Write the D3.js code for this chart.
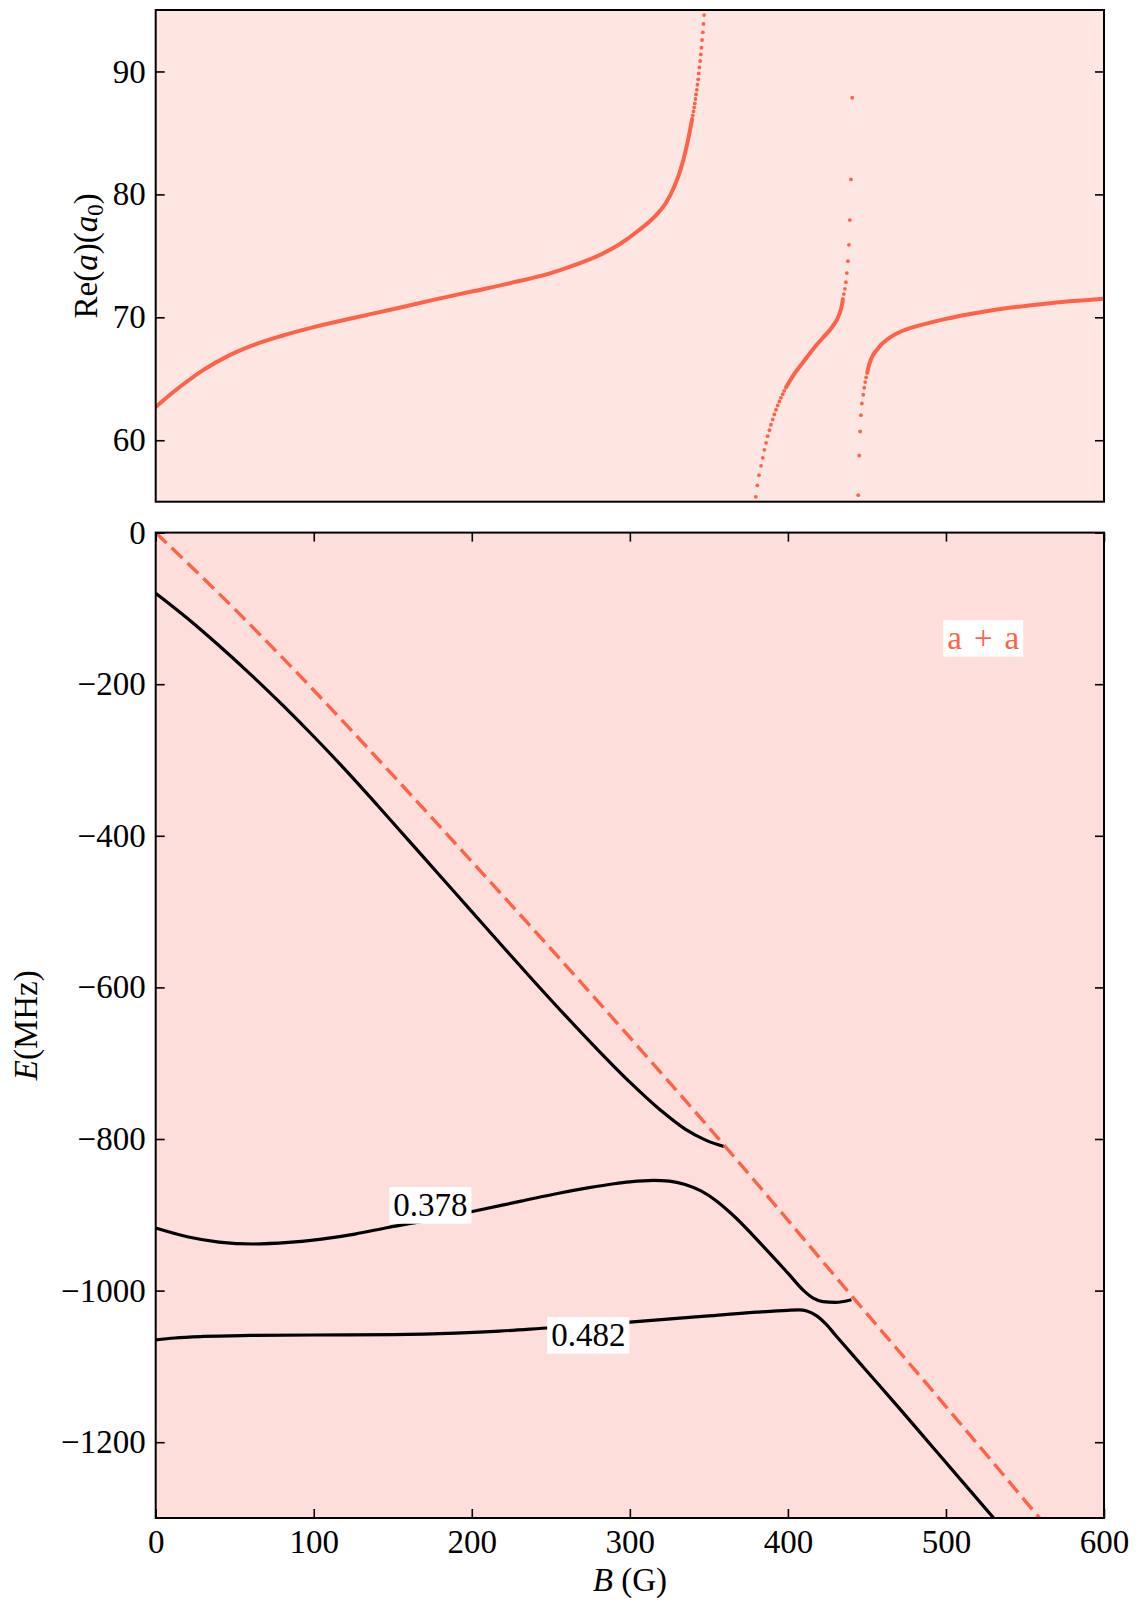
<!DOCTYPE html>
<html>
<head>
<meta charset="utf-8">
<script src="https://cdn.jsdelivr.net/npm/d3@7"></script>
<style>
  body { margin: 0; background: #fff; }
  svg { display: block; }
  text { font-family: "Liberation Serif", "DejaVu Serif", serif; }
</style>
</head>
<body>
<svg id="fig" width="1138" height="1602"></svg>
<script>
// ---------- tick values ----------
const fieldTicks = [0, 100, 200, 300, 400, 500, 600];
const lengthTicks = [60, 70, 80, 90];
const energyTicks = [0, -200, -400, -600, -800, -1000, -1200];

// ---------- scattering length Re(a) vs B (G, a0) ----------
// branch below the first resonance: dense part drawn as a band, sparse samples as dots
const reBranch1Line = [[0, 62.7], [10, 63.8], [20, 64.8], [30, 65.7], [45, 66.8], [60, 67.65], [80, 68.5],
  [100, 69.2], [125, 69.95], [150, 70.65], [175, 71.4], [200, 72.1], [225, 72.8], [250, 73.6], [265, 74.25],
  [281, 75.07], [293, 75.9], [305.9, 77.1], [316.5, 78.3], [322.8, 79.3], [328, 80.6], [332.3, 82.1],
  [335.4, 83.6], [337.6, 84.9], [339.4, 86.13]];
const reBranch1Dots = [[339.8, 86.43], [340.3, 86.75], [340.7, 87.08], [341.1, 87.40], [341.5, 87.76],
  [341.9, 88.13], [342.4, 88.51], [342.8, 88.92], [343.2, 89.36], [343.6, 89.84], [344.0, 90.33],
  [344.5, 90.85], [344.9, 91.39], [345.3, 91.93], [345.7, 92.56], [346.2, 93.18], [346.6, 93.86], [347.0, 94.59]];

// branch between the resonances
const reBranch2LowDots = [[379.7, 55.40], [380.7, 56.32], [381.7, 57.16], [383.0, 57.92], [384.1, 58.57],
  [385.1, 59.22], [386.2, 59.79], [387.2, 60.33], [388.3, 60.82], [389.3, 61.26], [390.4, 61.69],
  [391.4, 62.10], [392.5, 62.48], [393.6, 62.83], [394.6, 63.16], [395.6, 63.45], [396.7, 63.75], [397.7, 64.02]];
const reBranch2Line = [[398.8, 64.29], [402.8, 65.16], [409.1, 66.25], [415.4, 67.33], [421.7, 68.28],
  [428.1, 69.23], [432.3, 70.18], [434.4, 71.13], [434.8, 71.48]];
const reBranch2HighDots = [[435.4, 71.89], [436.1, 72.32], [436.7, 72.86], [437.3, 73.60], [438.0, 74.57],
  [438.6, 75.90], [439.2, 77.91], [439.9, 81.22], [440.7, 87.86]];

// branch above the second resonance
const reBranch3Dots = [[444.5, 55.53], [445.1, 58.76], [445.7, 60.71], [446.2, 62.04], [446.8, 62.99],
  [447.7, 63.70], [448.3, 64.27], [448.9, 64.73], [449.5, 65.11]];
const reBranch3Line = [[450.2, 65.49], [451.2, 66.05], [452.5, 66.55], [454, 66.95], [456, 67.3],
  [458.5, 67.7], [461, 68.0], [464, 68.3], [467, 68.55], [470.2, 68.77], [475, 69.02], [480, 69.22],
  [490, 69.57], [500, 69.87], [520, 70.37], [540, 70.77], [560, 71.07], [580, 71.32], [600, 71.52]];

// ---------- bound-state energies E(B) (MHz) ----------
const thresholdAA = [[0, 0], [50, -101], [100, -208], [150, -320], [200, -434], [250, -549], [300, -666],
  [360, -809], [440, -1006], [500, -1153], [560, -1302]];
const level1 = [[0, -80], [20, -113], [40, -149], [60, -187], [80, -227], [100, -269], [120, -313],
  [140, -359], [160, -406], [180, -453], [200, -500], [220, -547], [240, -593.5], [260, -639], [280, -683],
  [300, -725], [320, -763], [335, -787], [348, -801.5], [359.6, -810]];
const level2 = [[0, -917.5], [20, -929], [40, -936], [62, -938.5], [84, -936.5], [105, -932], [126, -925.4],
  [147, -916.7], [173, -907], [199.6, -896], [231.2, -882], [255, -871.5], [273.3, -864.5], [290, -859],
  [300, -856.5], [315, -854.5], [325, -855.5], [335, -860], [345, -868.5], [355, -882], [365, -900],
  [385, -943], [400, -977], [410, -1000], [416, -1010], [422, -1014.5], [430, -1015.5], [440.2, -1012]];
const level3 = [[0, -1065], [12, -1062.5], [30, -1060.5], [60, -1059.2], [100, -1058.6], [150, -1058],
  [190, -1056], [217.5, -1053.5], [250, -1049], [273.7, -1046], [300, -1041.5], [345.7, -1034],
  [380, -1028.5], [400, -1026], [407, -1025.5], [412, -1027], [418, -1033], [424, -1044], [430, -1058.5],
  [449, -1104], [470, -1154], [491, -1205], [512, -1256], [531, -1302]];

// inline labels on the bound-state curves and the threshold label
const levelLabels = ["0.378", "0.482"];
const levelLabelAt = [[173.8, -887.6], [273.7, -1059.0]];
const thresholdLabel = "a + a";
const thresholdLabelAt = [523.6, -139.4];

// ---------- layout ----------
const accent = "#ff6347";
const L = 155.7, R = 1104;
const topPanel = { y0: 10, y1: 501.7 };
const botPanel = { y0: 532.6, y1: 1518 };
const FS = 33;
const minusFmt = d => (d < 0 ? "\u2212" : "") + Math.abs(d);

const svg = d3.select("#fig");
svg.append("rect").attr("width", 1138).attr("height", 1602).attr("fill", "#fff");

const x = d3.scaleLinear().domain([0, 600]).range([L, R]);
const yA = d3.scaleLinear().domain([55, 95]).range([topPanel.y1, topPanel.y0]);
const yE = d3.scaleLinear().domain([-1300, 0]).range([botPanel.y1, botPanel.y0]);

const defs = svg.append("defs");
defs.append("clipPath").attr("id", "clipTop").append("rect")
  .attr("x", L).attr("y", topPanel.y0).attr("width", R - L).attr("height", topPanel.y1 - topPanel.y0);
defs.append("clipPath").attr("id", "clipBot").append("rect")
  .attr("x", L).attr("y", botPanel.y0).attr("width", R - L).attr("height", botPanel.y1 - botPanel.y0);

// backgrounds
svg.append("rect").attr("x", L).attr("y", topPanel.y0).attr("width", R - L)
  .attr("height", topPanel.y1 - topPanel.y0).attr("fill", "#fee7e3");
svg.append("rect").attr("x", L).attr("y", botPanel.y0).attr("width", R - L)
  .attr("height", botPanel.y1 - botPanel.y0).attr("fill", "#fddeda");

// ---------- top panel: Re(a) ----------
const gTop = svg.append("g").attr("clip-path", "url(#clipTop)");
const lineA = d3.line().x(d => x(d[0])).y(d => yA(d[1])).curve(d3.curveMonotoneX);
[reBranch1Line, reBranch2Line, reBranch3Line].forEach(seg => {
  gTop.append("path").datum(seg).attr("d", lineA)
    .attr("fill", "none").attr("stroke", accent).attr("stroke-width", 4)
    .attr("stroke-linecap", "round").attr("stroke-linejoin", "round");
});
[reBranch1Dots, reBranch2LowDots, reBranch2HighDots, reBranch3Dots].forEach(set => {
  gTop.selectAll(null).data(set).enter().append("circle")
    .attr("cx", d => x(d[0])).attr("cy", d => yA(d[1])).attr("r", 1.9).attr("fill", accent);
});

// ---------- bottom panel: energies ----------
const gBot = svg.append("g").attr("clip-path", "url(#clipBot)");
const lineE = d3.line().x(d => x(d[0])).y(d => yE(d[1])).curve(d3.curveMonotoneX);
[level1, level2, level3].forEach(seg => {
  gBot.append("path").datum(seg).attr("d", lineE)
    .attr("fill", "none").attr("stroke", "#000").attr("stroke-width", 3.2)
    .attr("stroke-linejoin", "round");
});
gBot.append("path").datum(thresholdAA).attr("d", lineE)
  .attr("fill", "none").attr("stroke", accent).attr("stroke-width", 3.4)
  .attr("stroke-dasharray", "15,7");

// boxed labels
function boxedLabel(g, txt, cx, cy, color, len) {
  const grp = g.append("g");
  const rect = grp.append("rect").attr("fill", "#fff");
  const t = grp.append("text").attr("x", cx).attr("y", cy + 10.5)
    .attr("text-anchor", "middle").attr("font-size", FS).attr("fill", color).text(txt);
  if (len) t.attr("textLength", len).attr("lengthAdjust", "spacing");
  const bb = t.node().getBBox();
  const w = (len || bb.width) + 8, h = 36.7;
  rect.attr("x", cx - w / 2).attr("y", cy - h / 2).attr("width", w).attr("height", h);
  return t;
}
levelLabels.forEach((lab, i) => {
  boxedLabel(gBot, lab, x(levelLabelAt[i][0]), yE(levelLabelAt[i][1]), "#000");
});
boxedLabel(gBot, thresholdLabel, x(thresholdLabelAt[0]), yE(thresholdLabelAt[1]), accent, 72);

// ---------- axes ----------
function styleAxis(g) {
  g.select(".domain").remove();
  g.selectAll(".tick line").attr("stroke", "#000").attr("stroke-width", 1.6);
  g.selectAll("text").attr("font-size", FS).attr("fill", "#000");
  g.attr("font-family", null).attr("font-size", null);
}
// top panel
svg.append("g").attr("transform", `translate(${L},0)`)
  .call(d3.axisLeft(yA).tickValues(lengthTicks).tickFormat(minusFmt).tickSize(-9).tickSizeOuter(0).tickPadding(10))
  .call(styleAxis);
svg.append("g").attr("transform", `translate(${R},0)`)
  .call(d3.axisRight(yA).tickValues(lengthTicks).tickSize(-9).tickSizeOuter(0).tickFormat(""))
  .call(styleAxis);
// bottom panel
svg.append("g").attr("transform", `translate(${L},0)`)
  .call(d3.axisLeft(yE).tickValues(energyTicks).tickFormat(minusFmt).tickSize(-9).tickSizeOuter(0).tickPadding(10))
  .call(styleAxis);
svg.append("g").attr("transform", `translate(${R},0)`)
  .call(d3.axisRight(yE).tickValues(energyTicks).tickSize(-9).tickSizeOuter(0).tickFormat(""))
  .call(styleAxis);
svg.append("g").attr("transform", `translate(0,${botPanel.y1})`)
  .call(d3.axisBottom(x).tickValues(fieldTicks).tickFormat(minusFmt).tickSize(-9).tickSizeOuter(0).tickPadding(12))
  .call(styleAxis);
svg.append("g").attr("transform", `translate(0,${botPanel.y0})`)
  .call(d3.axisTop(x).tickValues(fieldTicks).tickSize(-9).tickSizeOuter(0).tickFormat(""))
  .call(styleAxis);

// frames
[topPanel, botPanel].forEach(p => {
  svg.append("rect").attr("x", L).attr("y", p.y0).attr("width", R - L).attr("height", p.y1 - p.y0)
    .attr("fill", "none").attr("stroke", "#000").attr("stroke-width", 2);
});

// ---------- axis titles ----------
const tA = svg.append("text").attr("transform", `translate(97,${(topPanel.y0 + topPanel.y1) / 2}) rotate(-90)`)
  .attr("text-anchor", "middle").attr("font-size", FS);
tA.append("tspan").text("Re(");
tA.append("tspan").attr("font-style", "italic").text("a");
tA.append("tspan").text(")(");
tA.append("tspan").attr("font-style", "italic").text("a");
tA.append("tspan").attr("font-size", 23).attr("dy", 6).text("0");
tA.append("tspan").attr("dy", -6).text(")");

const tE = svg.append("text").attr("transform", `translate(37,${(botPanel.y0 + botPanel.y1) / 2}) rotate(-90)`)
  .attr("text-anchor", "middle").attr("font-size", FS);
tE.append("tspan").attr("font-style", "italic").text("E");
tE.append("tspan").text("(MHz)");

const tB = svg.append("text").attr("x", (L + R) / 2).attr("y", 1591)
  .attr("text-anchor", "middle").attr("font-size", FS);
tB.append("tspan").attr("font-style", "italic").text("B");
tB.append("tspan").text(" (G)");
</script>
</body>
</html>
